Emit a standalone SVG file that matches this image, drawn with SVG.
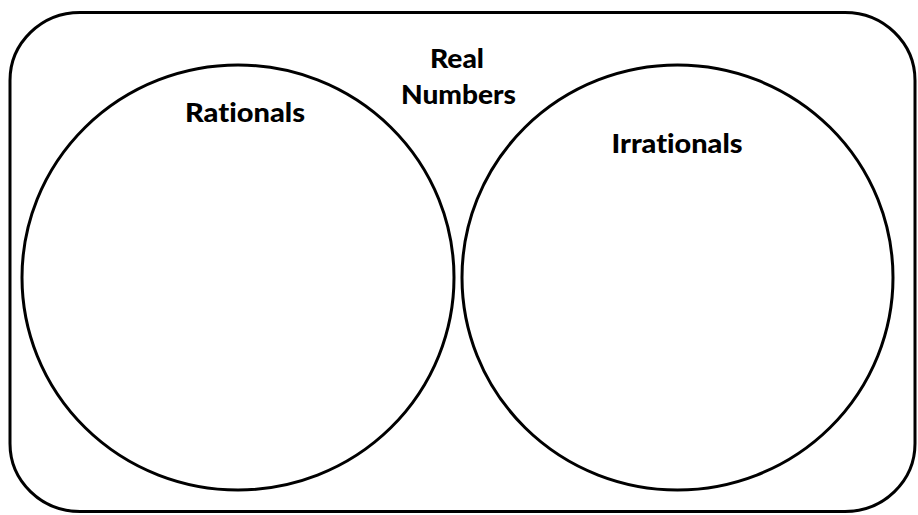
<svg xmlns="http://www.w3.org/2000/svg" width="918" height="515" viewBox="0 0 918 515">
  <style>
    .outline { fill: none; stroke: #000; stroke-width: 3; }
    .label { font-family: "Lato", "Open Sans", "Liberation Sans", sans-serif; font-weight: 900; font-size: 27px; fill: #000; text-anchor: middle; font-variant-ligatures: none; }
  </style>
  <rect x="0" y="0" width="918" height="515" fill="#fff"/>
  <g id="real-numbers">
    <rect class="outline" x="10" y="12.5" width="905" height="499" rx="70" ry="68"/>
    <text class="label" x="457" y="68" textLength="54" lengthAdjust="spacingAndGlyphs">Real</text>
    <text class="label" x="458.5" y="104" textLength="115" lengthAdjust="spacingAndGlyphs">Numbers</text>
  </g>
  <g id="rationals">
    <ellipse class="outline" cx="238" cy="277.5" rx="216" ry="212.5"/>
    <text class="label" x="245" y="121.5" textLength="120" lengthAdjust="spacingAndGlyphs">Rationals</text>
  </g>
  <g id="irrationals">
    <ellipse class="outline" cx="677.5" cy="277.5" rx="215.5" ry="212.5"/>
    <text class="label" x="677" y="153" textLength="131" lengthAdjust="spacingAndGlyphs">Irrationals</text>
  </g>
  <g id="connectors"/>
</svg>
